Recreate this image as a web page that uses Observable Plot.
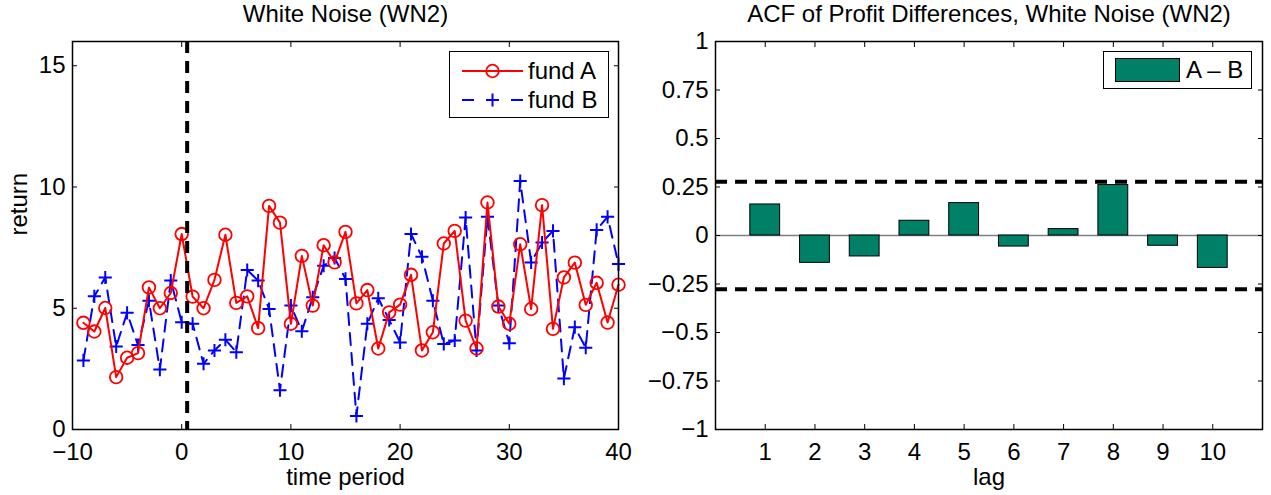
<!DOCTYPE html>
<html>
<head>
<meta charset="utf-8">
<script src="https://cdn.jsdelivr.net/npm/d3@7"></script>
<script src="https://cdn.jsdelivr.net/npm/@observablehq/plot@0.6"></script>
<style>
html, body { margin: 0; padding: 0; background: #fff; }
#wrap { position: relative; width: 1271px; height: 495px; overflow: hidden; background: #fff;
  font-family: "Liberation Sans", Arial, Helvetica, sans-serif; }
#wrap > svg { position: absolute; top: 0; }
.legend { position: absolute; }
</style>
</head>
<body>
<div id="wrap"></div>
<script>
// ---------- data ----------
const periods = [-9,-8,-7,-6,-5,-4,-3,-2,-1,0,1,2,3,4,5,6,7,8,9,10,11,12,13,14,15,16,17,18,19,20,
  21,22,23,24,25,26,27,28,29,30,31,32,33,34,35,36,37,38,39,40];
const fundA = [4.40,4.04,5.01,2.16,2.96,3.15,5.86,5.00,5.63,8.06,5.48,5.00,6.17,8.03,5.22,5.49,4.18,9.22,8.53,4.36,
  7.16,5.11,7.60,6.89,8.15,5.20,5.75,3.34,4.83,5.15,6.38,3.26,4.01,7.67,8.19,4.49,3.34,9.36,5.07,4.36,
  7.64,4.97,9.25,4.15,6.27,6.88,5.14,6.05,4.41,5.97];
const fundB = [2.85,5.49,6.27,3.42,4.81,3.48,5.31,2.47,6.14,4.42,4.36,2.71,3.26,3.70,3.19,6.58,6.14,4.97,1.62,5.11,
  4.05,5.45,6.75,7.07,6.21,0.56,4.36,5.41,4.52,3.59,8.06,7.12,5.31,3.53,3.67,8.74,3.26,8.77,5.11,3.56,
  10.25,6.89,7.71,8.19,2.10,4.22,3.37,8.23,8.77,6.82];
const dividerPeriod = 0.5;
const seriesNames = ["fund A", "fund B"];

const lags = [1,2,3,4,5,6,7,8,9,10];
const acfValues = [0.160,-0.141,-0.108,0.076,0.167,-0.057,0.033,0.260,-0.053,-0.167];
const confBand = 0.277;
const barName = "A – B";

const xTicksLeft = [-10,0,10,20,30,40];
const yTicksLeft = [0,5,10,15];
const xTicksRight = [1,2,3,4,5,6,7,8,9,10];
const yTicksRight = [-1,-0.75,-0.5,-0.25,0,0.25,0.5,0.75,1];

const titleLeft = "White Noise (WN2)";
const titleRight = "ACF of Profit Differences, White Noise (WN2)";

// ---------- build ----------
const FONT = '"Liberation Sans", Arial, Helvetica, sans-serif';
const fmt = d3.format("");
const rowsA = periods.map((t, i) => ({t, v: fundA[i]}));
const rowsB = periods.map((t, i) => ({t, v: fundB[i]}));
const acf = lags.map((lag, i) => ({lag, v: acfValues[i]}));
const RED = "#ff0000", BLUE = "#0000ff", TEAL = "#008066";
const blank = () => "";

function boxAxes(xt, yt) {
  return [
    Plot.axisX({anchor: "bottom", ticks: xt, tickSize: -5, tickPadding: 18, tickFormat: fmt, label: null}),
    Plot.axisX({anchor: "top", ticks: xt, tickSize: -5, tickFormat: blank, label: null}),
    Plot.axisY({anchor: "left", ticks: yt, tickSize: -5, tickPadding: 12, tickFormat: fmt, label: null}),
    Plot.axisY({anchor: "right", ticks: yt, tickSize: -5, tickFormat: blank, label: null}),
    Plot.frame({stroke: "black", strokeWidth: 1.5})
  ];
}

const style = {fontFamily: FONT, fontSize: "24px", background: "white", color: "black", overflow: "visible"};

const left = Plot.plot({
  width: 640, height: 495,
  marginLeft: 72, marginRight: 22, marginTop: 41, marginBottom: 66,
  style,
  x: {domain: [-10, 40]},
  y: {domain: [0, 16]},
  marks: [
    Plot.line(rowsB, {x: "t", y: "v", stroke: BLUE, strokeWidth: 2, strokeDasharray: "12,8"}),
    Plot.dot(rowsB, {x: "t", y: "v", symbol: "plus", r: 4.3, stroke: BLUE, strokeWidth: 2}),
    Plot.line(rowsA, {x: "t", y: "v", stroke: RED, strokeWidth: 2}),
    Plot.dot(rowsA, {x: "t", y: "v", symbol: "circle", r: 6.3, stroke: RED, fill: "none", strokeWidth: 1.8}),
    Plot.ruleX([dividerPeriod], {stroke: "black", strokeWidth: 4, strokeDasharray: "12,8"}),
    ...boxAxes(xTicksLeft, yTicksLeft),
    Plot.text([titleLeft], {frameAnchor: "top", lineAnchor: "bottom", dy: -20, fontSize: 24}),
    Plot.text(["time period"], {frameAnchor: "bottom", lineAnchor: "bottom", dy: 55, fontSize: 24}),
    Plot.text(["return"], {frameAnchor: "left", lineAnchor: "bottom", rotate: -90, dx: -46, fontSize: 24})
  ]
});
left.style.left = "0px";

const right = Plot.plot({
  width: 631, height: 495,
  marginLeft: 75, marginRight: 9, marginTop: 41, marginBottom: 66,
  style,
  x: {domain: [0, 11]},
  y: {domain: [-1, 1]},
  marks: [
    Plot.ruleY([0], {stroke: "#7f7f7f", strokeWidth: 1.5}),
    Plot.rect(acf, {x1: d => d.lag - 0.3, x2: d => d.lag + 0.3, y1: 0, y2: "v", fill: TEAL, stroke: "black", strokeWidth: 1}),
    Plot.ruleY([-confBand, confBand], {stroke: "black", strokeWidth: 4, strokeDasharray: "12,8"}),
    ...boxAxes(xTicksRight, yTicksRight),
    Plot.text([titleRight], {frameAnchor: "top", lineAnchor: "bottom", dy: -20, fontSize: 24}),
    Plot.text(["lag"], {frameAnchor: "bottom", lineAnchor: "bottom", dy: 55, fontSize: 24})
  ]
});
right.style.left = "640px";

const wrap = document.getElementById("wrap");
wrap.appendChild(left);
wrap.appendChild(right);

// ---------- legends ----------
const NS = "http://www.w3.org/2000/svg";
function el(tag, attrs, parent) {
  const e = document.createElementNS(NS, tag);
  for (const k in attrs) e.setAttribute(k, attrs[k]);
  if (parent) parent.appendChild(e);
  return e;
}
function legendSvg(x, y, w, h) {
  const s = el("svg", {width: w, height: h, class: "legend"});
  s.style.left = x + "px"; s.style.top = y + "px";
  s.style.fontFamily = FONT; s.style.fontSize = "24px";
  el("rect", {x: 0.5, y: 0.5, width: w - 1, height: h - 1, fill: "white", stroke: "black", "stroke-width": 1}, s);
  wrap.appendChild(s);
  return s;
}
{
  const s = legendSvg(449, 51, 160, 67);
  // fund A
  el("line", {x1: 13, x2: 74, y1: 20, y2: 20, stroke: RED, "stroke-width": 2}, s);
  el("circle", {cx: 43.5, cy: 20, r: 6.3, fill: "none", stroke: RED, "stroke-width": 1.8}, s);
  const ta = el("text", {x: 79, y: 20, dy: "0.35em"}, s); ta.textContent = seriesNames[0];
  // fund B
  el("line", {x1: 13, x2: 25, y1: 49, y2: 49, stroke: BLUE, "stroke-width": 2}, s);
  el("line", {x1: 62, x2: 74, y1: 49, y2: 49, stroke: BLUE, "stroke-width": 2}, s);
  el("path", {d: "M37,49H50M43.5,42.5V55.5", stroke: BLUE, "stroke-width": 2, fill: "none"}, s);
  const tb = el("text", {x: 79, y: 49, dy: "0.35em"}, s); tb.textContent = seriesNames[1];
}
{
  const s = legendSvg(1103, 51, 149, 38);
  el("rect", {x: 12.5, y: 7.5, width: 64, height: 23, fill: TEAL, stroke: "black", "stroke-width": 1}, s);
  const t = el("text", {x: 83, y: 19, dy: "0.35em"}, s); t.textContent = barName;
}
</script>
</body>
</html>
